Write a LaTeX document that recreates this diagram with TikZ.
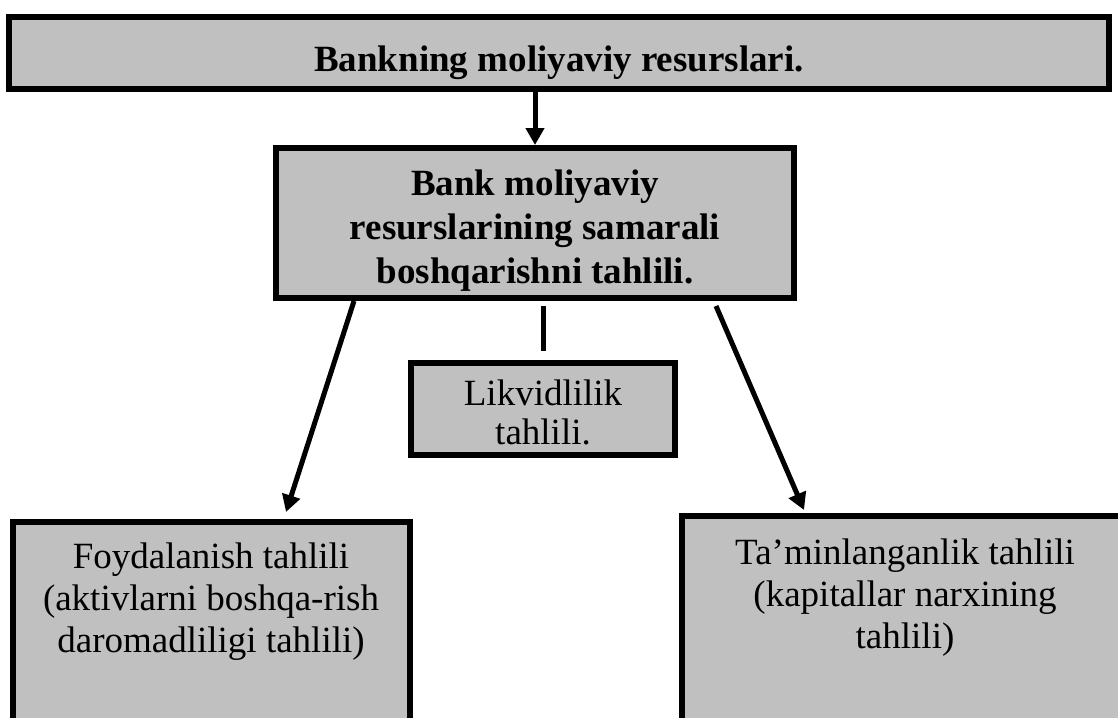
\documentclass[tikz,border=0pt]{standalone}
\usepackage{fontspec}
\setmainfont{Liberation Serif}
\usetikzlibrary{arrows.meta,calc}
\definecolor{boxgray}{HTML}{C0C0C0}
\tikzset{
  box/.style={draw=black, fill=boxgray, line width=6pt, rectangle, inner sep=0pt},
  txt/.style={inner sep=0pt, align=center, anchor=base, font=\fontsize{37}{#1}\selectfont},
  btxt/.style={inner sep=0pt, align=center, anchor=base, font=\fontsize{37}{#1}\selectfont\bfseries},
  arr/.style={line width=5pt, -{Triangle[length=17pt,width=18pt]}},
  plain/.style={line width=5pt}
}
\begin{document}
\begin{tikzpicture}[x=1pt,y=-1pt]
\useasboundingbox (0,0) rectangle (1118,717);
\clip (0,0) rectangle (1118,717);
\node[box, minimum width=1100pt, minimum height=72pt] (top) at (559,53) {};
\node[box, minimum width=518pt, minimum height=150pt] (mid) at (535,223) {};
\node[box, minimum width=264pt, minimum height=92pt] (lk) at (543,409) {};
\node[box, minimum width=397pt, minimum height=278pt] (lb) at (211.5,661) {};
\node[box, minimum width=518pt, minimum height=284pt] (rb) at (941,658) {};

% anchor=base of a multi-line node is the baseline of its last line
\node[btxt=44] (ttop) at (559,71) {Bankning moliyaviy resurslari.};
\node[btxt=44] (tmid) at (535,283) {Bank moliyaviy\\resurslarining samarali\\boshqarishni tahlili.};
\node[txt=39] (tlk) at (543,444) {Likvidlilik\\tahlili.};
\node[txt=42] (tlb) at (211,652) {Foydalanish tahlili\\(aktivlarni boshqa-rish\\daromadliligi tahlili)};
\node[txt=42] (trb) at (905,648) {Ta’minlanganlik tahlili\\(kapitallar narxining\\tahlili)};

\draw[arr] (top.south -| mid.north) -- (mid.north);
\draw[arr] ($(mid.south west)+(81,0)$) -- ($(lb.north west)+(276,-7)$);
\draw[arr] ($(mid.south east)+(-81,5)$) -- ($(rb.north west)+(125,-3)$);
\draw[plain] ($(mid.south)+(8,5)$) -- ($(lk.north)+(0,-9)$);
\end{tikzpicture}
\end{document}
